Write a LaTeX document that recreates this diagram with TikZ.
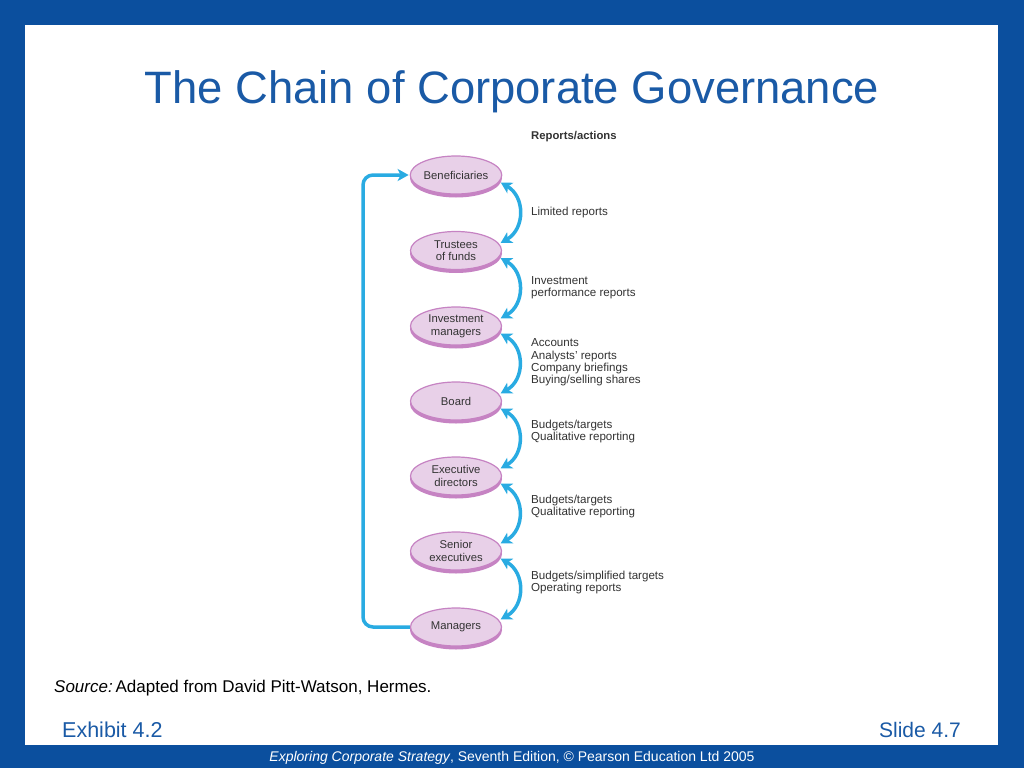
\documentclass[tikz,border=0pt]{standalone}
\usepackage{fontspec}
\setmainfont{Liberation Sans}
\usetikzlibrary{shapes.geometric,arrows.meta}
\definecolor{slideblue}{HTML}{0B4F9E}
\definecolor{titleblue}{HTML}{1A5AA6}
\definecolor{arrowcyan}{HTML}{29ABE2}
\definecolor{ellfill}{HTML}{E8D0E8}
\definecolor{ellrim}{HTML}{C683C3}
\definecolor{txtgray}{HTML}{333333}
\tikzset{
  stage/.style={ellipse, fill=ellfill, draw=ellrim, line width=1.2pt,
    minimum width=91pt, minimum height=38pt, inner sep=0pt, align=center,
    text=txtgray, font=\fontsize{11.3}{12.6}\selectfont},
  stageshadow/.style={ellipse, fill=ellrim, minimum width=92pt, minimum height=39pt, inner sep=0pt},
  rel/.style={draw=arrowcyan, line width=3.5pt, {Stealth[length=11pt,width=12pt,inset=3pt]}-{Stealth[length=11pt,width=12pt,inset=3pt]}},
  backloop/.style={draw=arrowcyan, line width=3.5pt, rounded corners=10pt, -{Stealth[length=11pt,width=12pt,inset=3pt]}},
  lbl/.style={anchor=west, align=left, text=txtgray, inner sep=0pt, font=\fontsize{11.6}{12.4}\selectfont}
}
\begin{document}
\begin{tikzpicture}[x=1pt,y=-1pt]
\useasboundingbox (0,0) rectangle (1024,768);
\fill[slideblue] (0,0) rectangle (1024,768);
\fill[white] (25,25) rectangle (998,745);
\node[text=titleblue, font=\fontsize{45.4}{54}\selectfont, inner sep=0pt] (title) at (512,92) {The Chain of Corporate Governance};

% shadows
\foreach \y in {175,250.5,326,401,476,551,627}
  \node[stageshadow] at (456,\y+3) {};
\node[stage] (ben) at (456,175) {Beneficiaries};
\node[stage] (tru) at (456,250.5) {Trustees\\of funds};
\node[stage] (inv) at (456,326) {Investment\\managers};
\node[stage] (brd) at (456,401) {Board};
\node[stage] (exe) at (456,476) {Executive\\directors};
\node[stage] (sen) at (456,551) {Senior\\executives};
\node[stage] (man) at (456,627) {Managers};

\foreach \a/\b in {ben/tru,tru/inv,inv/brd,brd/exe,exe/sen,sen/man}
  \draw[rel] ([xshift=2pt]\a.-10) to[out=-30, in=30, looseness=1.2] ([xshift=2pt]\b.10);

\coordinate (lb) at (363,627);
\coordinate (lt) at (363,175);
\draw[backloop] (man.west) -- (lb) -- (lt) -- ([xshift=-1pt]ben.west);

\node[lbl, font=\bfseries\fontsize{11.3}{12}\selectfont] (hdr) at (531,137) {Reports/actions};
\node[lbl] (l1) at (531,212) {Limited reports};
\node[lbl] (l2) at (531,287.5) {Investment\\performance reports};
\node[lbl] (l3) at (531,362.5) {Accounts\\Analysts’ reports\\Company briefings\\Buying/selling shares};
\node[lbl] (l4) at (531,431.5) {Budgets/targets\\Qualitative reporting};
\node[lbl] (l5) at (531,506.5) {Budgets/targets\\Qualitative reporting};
\node[lbl] (l6) at (531,582.5) {Budgets/simplified targets\\Operating reports};

\node[anchor=west, inner sep=0pt, font=\fontsize{17}{18}\selectfont] (src) at (54,688) {\textit{Source:}\,Adapted from David Pitt-Watson, Hermes.};
\node[anchor=west, inner sep=0pt, text=titleblue, font=\fontsize{21.5}{24}\selectfont] (exh) at (62,730) {Exhibit 4.2};
\node[anchor=east, inner sep=0pt, text=titleblue, font=\fontsize{21}{24}\selectfont] (sld) at (961,730) {Slide 4.7};
\node[inner sep=0pt, text=white, font=\fontsize{14}{16}\selectfont] (foot) at (512,757.5) {\textit{Exploring Corporate Strategy}, Seventh Edition, © Pearson Education Ltd 2005};
\end{tikzpicture}
\end{document}
